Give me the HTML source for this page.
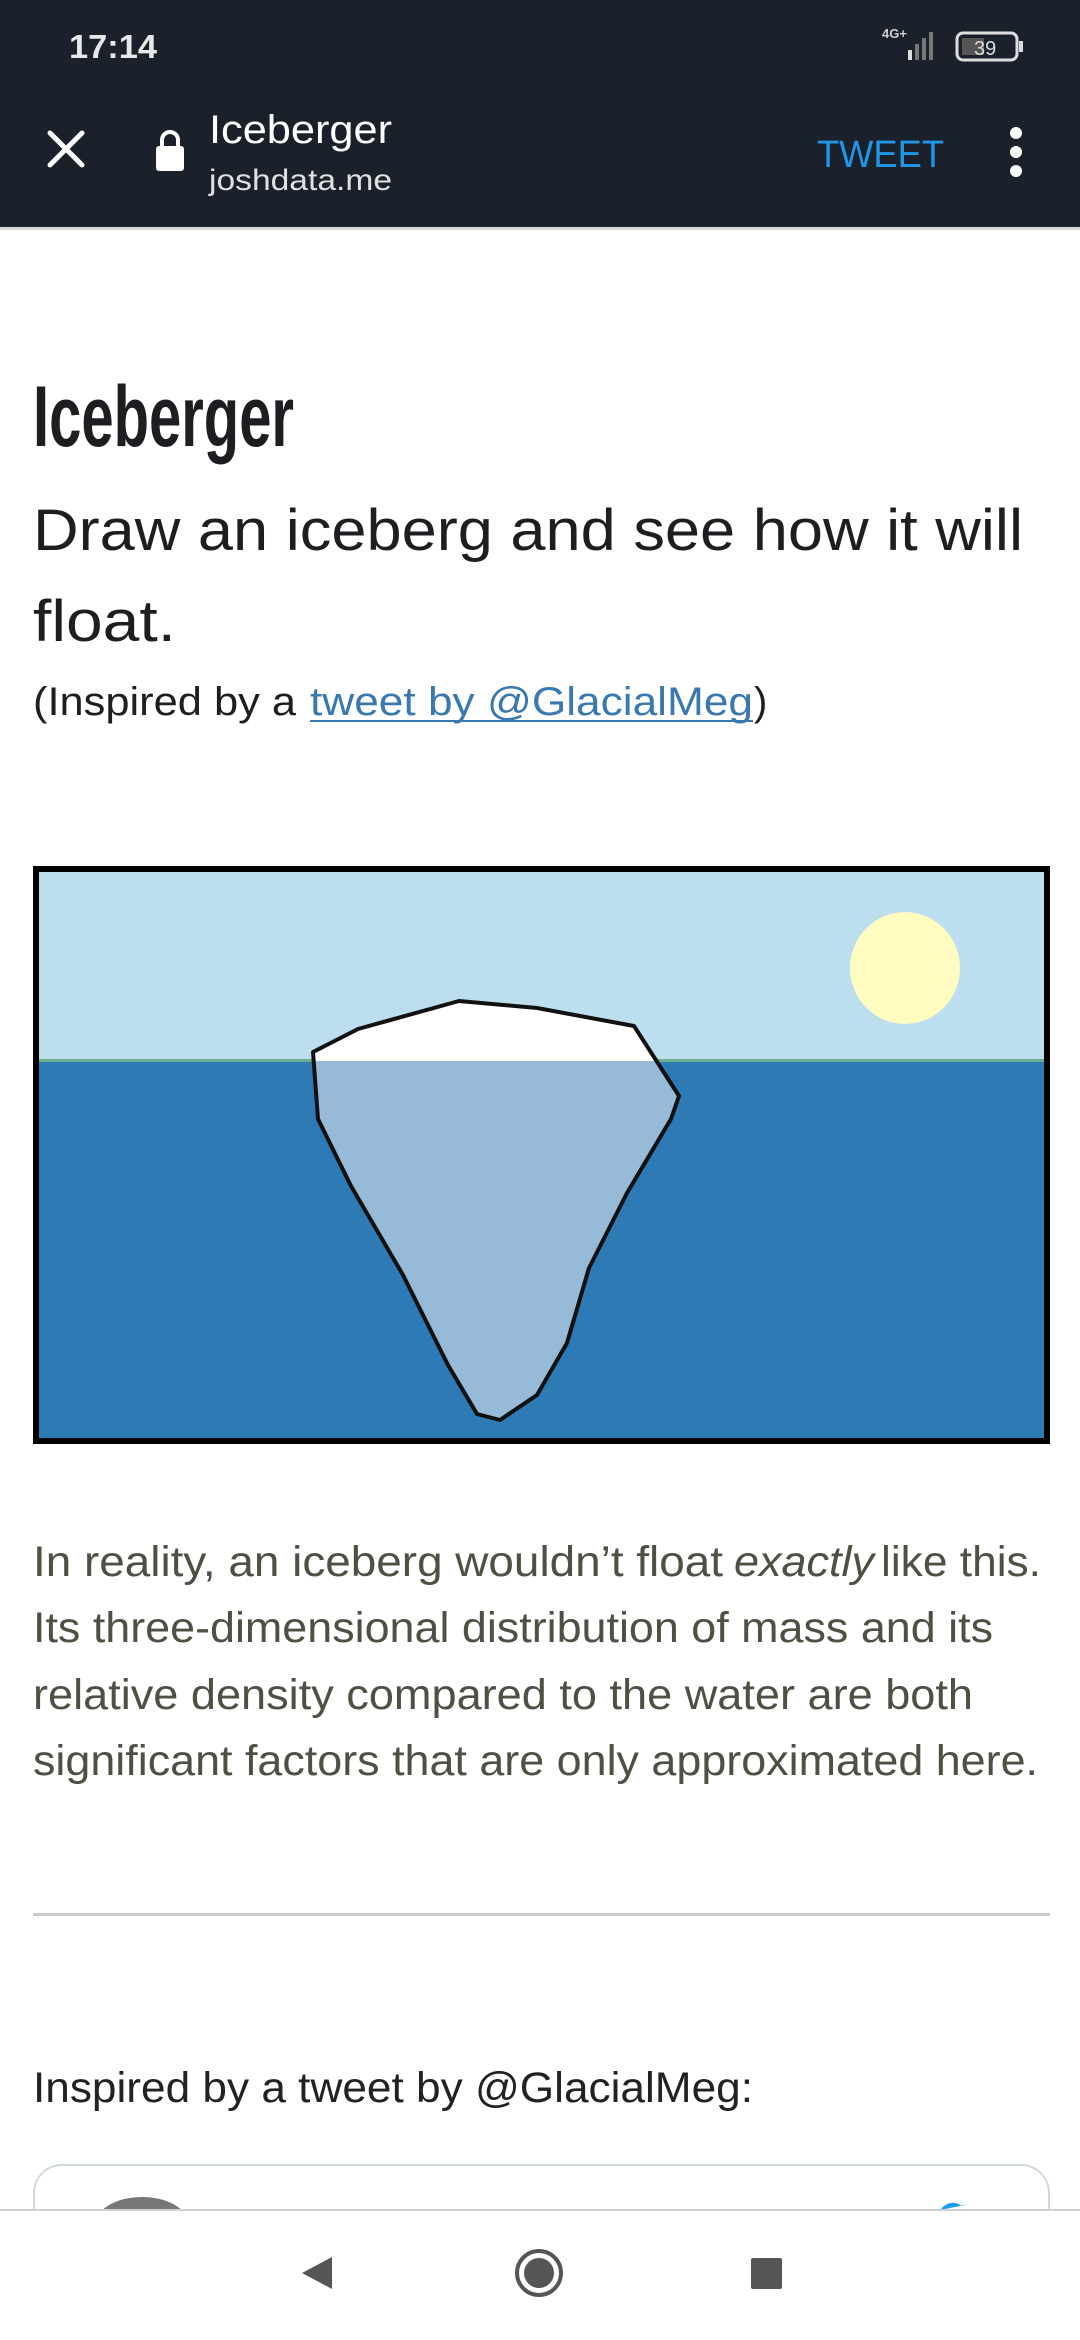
<!DOCTYPE html>
<html><head><meta charset="utf-8">
<style>
html,body{margin:0;padding:0;background:#fff;width:1080px;height:2340px;overflow:hidden}
svg{display:block}
text{font-family:"Liberation Sans",sans-serif}
</style></head>
<body>
<svg id="page" width="1080" height="2340" viewBox="0 0 1080 2340" xmlns="http://www.w3.org/2000/svg">
  <rect x="0" y="0" width="1080" height="227" fill="#1a212b"/>
  <rect x="0" y="227" width="1080" height="3" fill="#d8d8d8"/>
  <text x="69" y="58" font-size="33" font-weight="bold" fill="#e8e8e8" textLength="88" lengthAdjust="spacingAndGlyphs">17:14</text>
  <g fill="#cfcfcf">
    <text x="882" y="38" font-size="13" font-weight="bold" fill="#cfcfcf">4G+</text>
    <rect x="908" y="50" width="4" height="10" fill="#ddd"/>
    <rect x="915" y="44" width="4" height="16" fill="#777"/>
    <rect x="922" y="38" width="4" height="22" fill="#777"/>
    <rect x="929" y="32" width="4" height="28" fill="#777"/>
  </g>
  <g>
    <rect x="957" y="33" width="60" height="27" rx="6" fill="none" stroke="#ddd" stroke-width="3"/>
    <rect x="1019" y="41" width="4" height="11" fill="#ddd"/>
    <rect x="962" y="38" width="22" height="17" fill="#555"/>
    <text x="974" y="55" font-size="20" fill="#ddd">39</text>
  </g>
  <g stroke="#fff" stroke-width="5" stroke-linecap="round">
    <line x1="50" y1="133" x2="82" y2="165"/><line x1="82" y1="133" x2="50" y2="165"/>
  </g>
  <g>
    <path d="M162 148 v-8 a8 8 0 0 1 16 0 v8" fill="none" stroke="#fff" stroke-width="4"/>
    <rect x="156" y="146" width="28" height="25" rx="3" fill="#fff"/>
  </g>
  <text x="209" y="143" font-size="40" fill="#fff" textLength="183" lengthAdjust="spacingAndGlyphs">Iceberger</text>
  <text x="209" y="190" font-size="30" fill="#e0e0e0" textLength="183" lengthAdjust="spacingAndGlyphs">joshdata.me</text>
  <text x="817" y="167" font-size="38" fill="#2196e8" textLength="127" lengthAdjust="spacingAndGlyphs">TWEET</text>
  <g fill="#fff">
    <circle cx="1016" cy="133" r="6"/><circle cx="1016" cy="152" r="6"/><circle cx="1016" cy="171" r="6"/>
  </g>

  <text x="33" y="446" font-size="86" font-weight="bold" fill="#1e1e22" textLength="261" lengthAdjust="spacingAndGlyphs">Iceberger</text>
  <text x="33" y="550" font-size="58" fill="#1e1e22" textLength="990" lengthAdjust="spacingAndGlyphs">Draw an iceberg and see how it will</text>
  <text x="33" y="641" font-size="58" fill="#1e1e22" textLength="143" lengthAdjust="spacingAndGlyphs">float.</text>
  <text x="33" y="715" font-size="40" fill="#1e1e22" textLength="263" lengthAdjust="spacingAndGlyphs">(Inspired by a</text>
  <text x="310" y="715" font-size="40" fill="#3a78b0" textLength="443" lengthAdjust="spacingAndGlyphs">tweet by @GlacialMeg</text>
  <rect x="310" y="720" width="443" height="2" fill="#3a78b0"/>
  <text x="754" y="715" font-size="40" fill="#1e1e22">)</text>

  <g id="scene">
    <rect x="33" y="866" width="1017" height="578" fill="#000"/>
    <rect x="39" y="872" width="1005" height="189" fill="#bcdeee"/>
    <rect x="39" y="1061" width="1005" height="377" fill="#2e7ab5"/>
    <rect x="39" y="1059" width="1005" height="3" fill="#6fae8a"/>
    <ellipse cx="905" cy="968" rx="55" ry="56" fill="#fefcc0"/>
    <clipPath id="aboveClip"><rect x="39" y="872" width="1005" height="189"/></clipPath>
    <clipPath id="belowClip"><rect x="39" y="1061" width="1005" height="377"/></clipPath>
  </g>

  <g fill="#4f4f44" font-size="43">
    <text x="33" y="1576" textLength="690" lengthAdjust="spacingAndGlyphs">In reality, an iceberg wouldn’t float</text>
    <text x="734" y="1576" font-style="italic" textLength="140" lengthAdjust="spacingAndGlyphs">exactly</text>
    <text x="881" y="1576" textLength="160" lengthAdjust="spacingAndGlyphs">like this.</text>
    <text x="33" y="1642" textLength="960" lengthAdjust="spacingAndGlyphs">Its three-dimensional distribution of mass and its</text>
    <text x="33" y="1709" textLength="940" lengthAdjust="spacingAndGlyphs">relative density compared to the water are both</text>
    <text x="33" y="1775" textLength="1005" lengthAdjust="spacingAndGlyphs">significant factors that are only approximated here.</text>
  </g>
  <rect x="33" y="1913" width="1017" height="3" fill="#cccccc"/>
  <text x="33" y="2102" font-size="43" fill="#222" textLength="720" lengthAdjust="spacingAndGlyphs">Inspired by a tweet by @GlacialMeg:</text>
  <rect x="34" y="2165" width="1015" height="120" rx="28" fill="#fff" stroke="#cfd9de" stroke-width="2"/>
  <ellipse cx="142" cy="2222" rx="45" ry="25" fill="#777"/>
  <path d="M940 2210 q10 -12 22 -4 l8 -2 z" fill="#1d9bf0"/>

  <rect x="0" y="2210" width="1080" height="130" fill="#fff"/>
  <rect x="0" y="2209" width="1080" height="2" fill="#d0d0d0"/>
  <path d="M332 2257 L332 2289 L302 2273 Z" fill="#555"/>
  <circle cx="539" cy="2273" r="22" fill="none" stroke="#555" stroke-width="4"/>
  <circle cx="539" cy="2273" r="15" fill="#555"/>
  <rect x="751" y="2258" width="31" height="31" rx="2" fill="#555"/>
</svg>
<script>
// iceberg outline vertices (pixels, page coords)
const bergX = [313,358,459,537,634,679,671,627,589,567,537,500,477,448,403,351,318];
const bergY = [1052,1029,1001,1008,1026,1096,1119,1193,1268,1343,1395,1420,1414,1365,1275,1186,1119];
const NS = 'http://www.w3.org/2000/svg';
const scene = document.getElementById('scene');
let d = '';
for (let i = 0; i < bergX.length; i++) d += (i ? ' L' : 'M') + bergX[i] + ' ' + bergY[i];
d += ' Z';
const above = document.createElementNS(NS, 'path');
above.setAttribute('d', d);
above.setAttribute('fill', '#ffffff');
above.setAttribute('clip-path', 'url(#aboveClip)');


scene.appendChild(above);
const below = document.createElementNS(NS, 'path');
below.setAttribute('d', d);
below.setAttribute('fill', '#96bad8');
below.setAttribute('clip-path', 'url(#belowClip)');


scene.appendChild(below);
const outline = document.createElementNS(NS, 'path');
outline.setAttribute('d', d);
outline.setAttribute('fill', 'none');
outline.setAttribute('stroke', '#111');
outline.setAttribute('stroke-width', '4');
outline.setAttribute('stroke-linejoin', 'round');


scene.appendChild(outline);
</script>
</body></html>
